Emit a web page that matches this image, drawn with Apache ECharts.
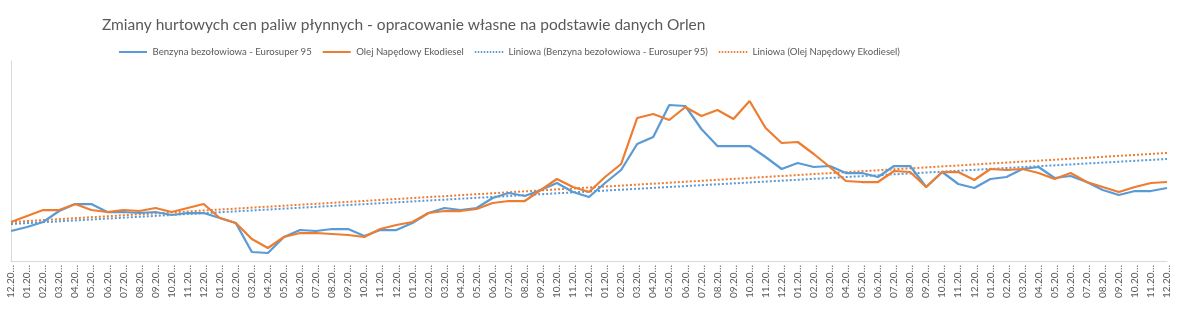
<!DOCTYPE html>
<html>
<head>
<meta charset="utf-8">
<script src="https://cdn.jsdelivr.net/npm/echarts@6/dist/echarts.min.js"></script>
<style>
html,body{margin:0;padding:0;background:#fff;}
#chart{width:1181px;height:322px;}
</style>
</head>
<body>
<div id="chart"></div>
<script>
// Months: 12.2018 ... 12.2024
const categories = ["12.2018"];
const years = ["2019","2020","2021","2022","2023","2024"];
const months = ["01","02","03","04","05","06","07","08","09","10","11","12"];
years.forEach(y => months.forEach(m => categories.push(m + "." + y)));

// Values (relative units, no axis scale shown)
const benzyna = [69,73,78,89,96,96,88,88,87,88,
  85,87,87,82,77,48,47,63,70,69,
  71,71,64,70,70,77,87,92,90,92,
  102,107,104,110,117,108,103,117,130,156,
  163,195,194,171,154,154,154,143,131,137,
  133,134,127,127,123,134,134,113,128,116,
  112,121,123,131,133,122,124,118,110,105,
  109,109,112];
const diesel = [78,84,90,90,96,90,88,90,89,92,
  88,92,96,82,77,61,52,63,67,67,
  66,65,63,71,75,78,87,89,89,91,
  97,99,99,110,121,113,108,123,136,182,
  186,180,193,184,190,181,199,172,157,158,
  146,133,119,118,118,129,128,113,128,128,
  120,131,130,131,127,121,127,118,113,108,
  113,117,118];
// Linear trend line end values (first and last month)
const trendBenzyna = [76, 141];
const trendDiesel = [78, 147];

const seriesNames = [
  "Benzyna bezołowiowa - Eurosuper 95",
  "Olej Napędowy Ekodiesel",
  "Liniowa (Benzyna bezołowiowa - Eurosuper 95)",
  "Liniowa (Olej Napędowy Ekodiesel)"
];
const titleText = "Zmiany hurtowych cen paliw płynnych - opracowanie własne na podstawie danych Orlen";

function endpoints(t) {
  const arr = categories.map(() => null);
  arr[0] = t[0];
  arr[arr.length - 1] = t[1];
  return arr;
}

const BLUE = "#5b9bd5", ORANGE = "#ed7d31", GRAY = "#595959";
const FONT = "Lato, 'Open Sans', sans-serif";
const SOLID_ICON = "path://M0,0H28V2H0Z";
let dots = "";
for (let i = 0; i < 10; i++) dots += "M" + (i * 3) + ",0h1.5v2h-1.5Z";
const DOTTED_ICON = "path://" + dots + "M28.5,0h0v2h0Z";

const chart = echarts.init(document.getElementById("chart"), null, {renderer: "canvas"});
chart.setOption({
  animation: false,
  backgroundColor: "#fff",
  title: {
    text: titleText,
    left: 97, top: 12,
    textStyle: {fontFamily: FONT, fontSize: 15.5, fontWeight: "normal", color: GRAY}
  },
  legend: {
    left: 114, top: 42,
    itemWidth: 29, itemHeight: 2, itemGap: 11,
    textStyle: {fontFamily: FONT, fontSize: 9.6, color: GRAY},
    data: [
      {name: seriesNames[0], icon: SOLID_ICON},
      {name: seriesNames[1], icon: SOLID_ICON},
      {name: seriesNames[2], icon: DOTTED_ICON},
      {name: seriesNames[3], icon: DOTTED_ICON}
    ]
  },
  grid: {left: 11, right: 14, top: 61, bottom: 61},
  xAxis: {
    type: "category",
    data: categories,
    boundaryGap: false,
    axisLine: {lineStyle: {color: "#d9d9d9", width: 1}},
    axisTick: {show: false},
    axisLabel: {
      rotate: 90, interval: 0, margin: 4,
      fontFamily: FONT, fontSize: 10, color: GRAY,
      formatter: v => v.slice(0, 5) + "…"
    }
  },
  yAxis: {
    type: "value",
    min: 39, max: 239,
    axisLine: {show: true, lineStyle: {color: "#d9d9d9", width: 1}},
    axisTick: {show: false},
    axisLabel: {show: false},
    splitLine: {show: false}
  },
  series: [
    {name: seriesNames[0], type: "line", data: benzyna, symbol: "none",
     lineStyle: {color: BLUE, width: 2.25}, itemStyle: {color: BLUE}, z: 3},
    {name: seriesNames[1], type: "line", data: diesel, symbol: "none",
     lineStyle: {color: ORANGE, width: 2.25}, itemStyle: {color: ORANGE}, z: 4},
    {name: seriesNames[2], type: "line", data: endpoints(trendBenzyna), connectNulls: true, symbol: "none",
     lineStyle: {color: BLUE, width: 2, type: [2, 2]}, itemStyle: {color: BLUE}, z: 2},
    {name: seriesNames[3], type: "line", data: endpoints(trendDiesel), connectNulls: true, symbol: "none",
     lineStyle: {color: ORANGE, width: 2, type: [2, 2]}, itemStyle: {color: ORANGE}, z: 2}
  ]
});
</script>
</body>
</html>
